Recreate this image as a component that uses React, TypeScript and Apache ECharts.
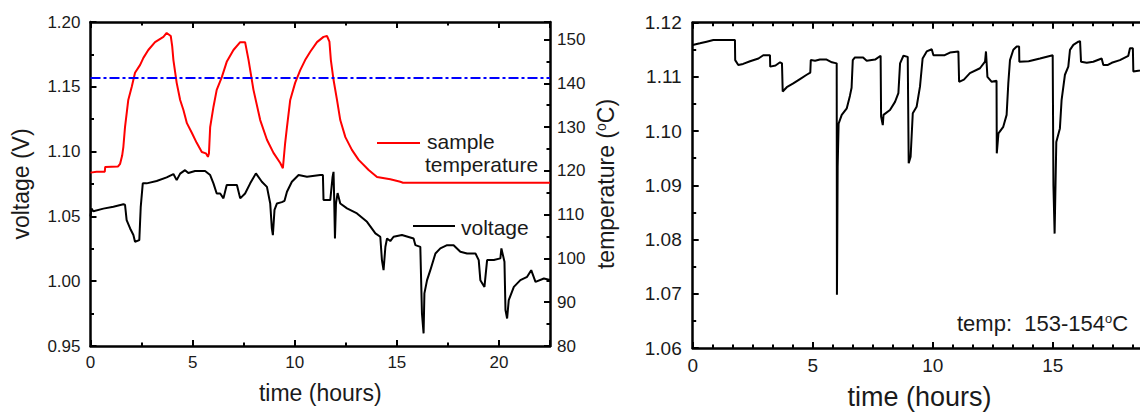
import React, { useEffect, useRef } from 'react';
import * as echarts from 'echarts';

const FONT = '"Liberation Sans", Arial, Helvetica, sans-serif';
const INK = '#1a1a1a';

// Left panel: sample temperature (°C) vs time (hours)
const tempHours = [0, 0.3, 0.7, 0.72, 1.35, 1.45, 1.55, 1.61, 1.69, 1.78, 1.85, 2.02, 2.18, 2.43, 2.59, 2.83, 3.16, 3.57, 3.73, 3.93, 4.0, 4.06, 4.22, 4.39, 4.55, 4.72, 4.96, 5.2, 5.45, 5.65, 5.75, 5.8, 5.86, 6.02, 6.18, 6.43, 6.67, 7.0, 7.33, 7.57, 7.74, 7.98, 8.31, 8.64, 8.96, 9.29, 9.42, 9.53, 9.62, 9.78, 10.02, 10.27, 10.51, 10.76, 11.09, 11.41, 11.58, 11.7, 11.77, 11.9, 12.07, 12.23, 12.48, 12.8, 13.13, 13.62, 14.03, 14.68, 15.17, 15.3, 22.5];
const tempValues = [119.6, 119.8, 119.8, 120.9, 121.0, 121.6, 123.5, 125.5, 130.0, 133.5, 136.2, 139.2, 142.4, 144.2, 145.8, 147.6, 149.4, 150.6, 151.5, 150.8, 148.5, 145.3, 140.1, 136.2, 133.9, 130.9, 128.7, 126.4, 124.3, 124.0, 123.2, 124.0, 130.0, 134.6, 138.5, 141.4, 144.9, 147.6, 149.4, 149.4, 145.3, 138.5, 131.6, 127.1, 124.1, 121.8, 120.6, 126.3, 130.0, 136.2, 140.1, 143.0, 145.3, 147.2, 149.4, 150.6, 150.8, 149.5, 145.3, 140.8, 136.2, 131.6, 127.7, 124.8, 122.5, 120.2, 118.6, 118.1, 117.5, 117.3, 117.3];
const thresholdTemp = 141.2;

// Left panel: voltage (V) vs time (hours)
const voltHoursA = [0, 0.05, 0.14, 0.63, 1.12, 1.61, 1.69, 1.77, 1.94, 2.1, 2.18, 2.39, 2.46, 2.56, 2.75, 3.24, 3.73, 4.06, 4.22, 4.39, 4.63, 4.79, 5.12, 5.61, 5.86, 6.02, 6.18, 6.35, 6.51, 6.67, 7.17, 7.33, 7.57, 7.82, 8.1, 8.39, 8.64, 8.8, 8.88, 8.93, 9.01, 9.13, 9.37, 9.5, 9.62, 9.86, 10.19, 10.6, 11.25, 11.38, 11.41, 11.74, 11.85, 11.9, 11.93, 11.97, 12.02, 12.1, 12.23, 12.56, 13.05, 13.54, 13.95, 14.19, 14.27, 14.35, 14.44, 14.52, 14.68, 14.84, 15.25, 15.82, 15.91, 16.15, 16.23, 16.31, 16.35, 16.48, 16.64, 16.89, 17.13, 17.46, 17.78, 18.11, 18.44, 18.85, 19.01, 19.09, 19.29, 19.42, 19.75, 20.07, 20.12, 20.27, 20.32, 20.4, 20.48, 20.73, 21.05, 21.38, 21.58, 21.79, 22.2, 22.5];
const voltValuesA = [1.05, 1.056, 1.054, 1.056, 1.0575, 1.0593, 1.059, 1.0471, 1.0407, 1.0356, 1.0304, 1.0317, 1.0574, 1.0755, 1.0755, 1.0773, 1.0801, 1.0827, 1.078, 1.083, 1.0857, 1.0835, 1.085, 1.085, 1.0819, 1.0755, 1.0677, 1.0677, 1.0639, 1.0742, 1.0742, 1.0639, 1.0677, 1.0755, 1.0832, 1.0767, 1.0728, 1.06, 1.0407, 1.0356, 1.055, 1.06, 1.061, 1.062, 1.069, 1.0767, 1.0819, 1.0806, 1.082, 1.082, 1.0626, 1.0626, 1.08, 1.0844, 1.065, 1.033, 1.06, 1.068, 1.06, 1.0562, 1.0523, 1.0458, 1.0369, 1.0343, 1.0163, 1.0085, 1.0266, 1.033, 1.031, 1.0343, 1.0356, 1.033, 1.0278, 1.0265, 0.9751, 0.9597, 0.9906, 1.0008, 1.0085, 1.0214, 1.0253, 1.0278, 1.0278, 1.0227, 1.0214, 1.0214, 1.0163, 1.0008, 0.9956, 1.0163, 1.0163, 1.0176, 1.0253, 1.015, 0.9777, 0.9712, 0.9854, 0.9956, 1.0008, 1.0034, 1.0085, 0.9995, 1.0021, 1.001];

// Right panel: voltage (V) vs time (hours) at 153-154 °C
const voltHoursB = [0, 0.3, 0.58, 0.86, 1.76, 1.77, 1.9, 2.1, 2.39, 2.74, 2.94, 3.22, 3.23, 3.45, 3.64, 3.72, 3.75, 3.92, 4.19, 4.47, 4.75, 4.9, 4.92, 5.1, 5.3, 5.58, 5.8, 6.0, 6.01, 6.04, 6.08, 6.21, 6.42, 6.55, 6.62, 6.67, 6.76, 7.1, 7.25, 7.6, 7.83, 7.85, 7.92, 7.95, 8.22, 8.43, 8.57, 8.64, 8.78, 8.96, 9.0, 9.08, 9.17, 9.33, 9.47, 9.58, 9.75, 9.96, 10.03, 10.5, 10.72, 11.07, 11.1, 11.3, 11.55, 11.97, 12.18, 12.22, 12.28, 12.46, 12.66, 12.67, 12.74, 12.94, 13.08, 13.15, 13.22, 13.36, 13.5, 13.6, 13.61, 14.0, 14.47, 15.0, 15.03, 15.08, 15.15, 15.3, 15.37, 15.51, 15.65, 15.72, 15.86, 16.07, 16.14, 16.18, 16.42, 16.69, 17.04, 17.11, 17.3, 17.46, 17.8, 18.15, 18.22, 18.34, 18.36, 18.64, 18.9];
const voltValuesB = [1.1159, 1.1162, 1.1165, 1.1168, 1.1168, 1.1131, 1.1122, 1.1124, 1.1129, 1.1134, 1.114, 1.114, 1.1119, 1.1121, 1.1127, 1.1125, 1.1073, 1.1081, 1.1088, 1.1096, 1.1104, 1.1108, 1.1131, 1.113, 1.1132, 1.1132, 1.1127, 1.1125, 1.0698, 1.0934, 1.1014, 1.103, 1.1042, 1.1065, 1.108, 1.1131, 1.1136, 1.1136, 1.113, 1.1132, 1.1139, 1.1027, 1.1011, 1.103, 1.1039, 1.1054, 1.107, 1.1125, 1.1139, 1.1137, 1.0941, 1.0953, 1.1033, 1.1045, 1.1082, 1.1134, 1.1147, 1.1151, 1.114, 1.114, 1.1145, 1.1147, 1.1091, 1.1095, 1.1107, 1.1116, 1.1128, 1.1147, 1.11, 1.1091, 1.1093, 1.0959, 1.0996, 1.1008, 1.103, 1.1088, 1.1131, 1.115, 1.1156, 1.1156, 1.1128, 1.1129, 1.1134, 1.114, 1.09, 1.0811, 1.098, 1.1005, 1.1057, 1.1104, 1.1119, 1.115, 1.1159, 1.1165, 1.1166, 1.1128, 1.1126, 1.1128, 1.1134, 1.1122, 1.1122, 1.1126, 1.1131, 1.1139, 1.1153, 1.1153, 1.111, 1.1112, 1.1115];

const zip = (xs: number[], ys: number[]) => xs.map((x, i) => [x, ys[i]]);

const isMultiple = (v: number, step: number) => Math.abs(v / step - Math.round(v / step)) < 1e-6;

function axisBase(fontSize: number) {
  return {
    axisLine: { show: true, onZero: false, lineStyle: { color: '#000', width: 2.5 } },
    axisTick: { show: true, inside: true, length: 6, lineStyle: { color: '#000', width: 2 } },
    minorTick: { show: true, splitNumber: 2, length: 3.5, lineStyle: { color: '#000', width: 2 } },
    splitLine: { show: false },
    minorSplitLine: { show: false },
    axisLabel: { color: INK, fontSize, fontFamily: FONT },
    nameTextStyle: { color: INK, fontFamily: FONT },
  };
}

const supRich = (size: number) => ({
  s: { fontSize: size, fontFamily: FONT, color: INK, verticalAlign: 'top' as const },
});

export default function App() {
  const ref = useRef<HTMLDivElement>(null);
  useEffect(() => {
    const chart = echarts.init(ref.current!, null, { renderer: 'svg' });
    const b17 = axisBase(17);
    const b19 = axisBase(19);
    chart.setOption({
      animation: false,
      backgroundColor: '#fff',
      grid: [
        { left: 90.5, top: 22, width: 459.5, height: 324, outerBoundsMode: 'none', containLabel: false },
        { left: 692.7, top: 22.7, width: 453.6, height: 325.3, outerBoundsMode: 'none', containLabel: false },
      ],
      xAxis: [
        {
          ...b17, type: 'value', gridIndex: 0, position: 'bottom', min: 0, max: 22.5, interval: 5,
          axisLabel: { ...b17.axisLabel, margin: 8, formatter: (v: number) => (isMultiple(v, 5) ? String(v) : '') },
          name: 'time (hours)', nameLocation: 'middle', nameGap: 35,
          nameTextStyle: { ...b17.nameTextStyle, fontSize: 23 },
        },
        {
          ...b17, type: 'value', gridIndex: 0, position: 'top', min: 0, max: 22.5, interval: 5,
          axisLabel: { show: false },
        },
        {
          ...b19, type: 'value', gridIndex: 1, position: 'bottom', min: 0, max: 18.9, interval: 5,
          minorTick: { ...b19.minorTick, splitNumber: 6 },
          axisLabel: { ...b19.axisLabel, margin: 8, formatter: (v: number) => (isMultiple(v, 5) ? String(v) : '') },
          name: 'time (hours)', nameLocation: 'middle', nameGap: 35,
          nameTextStyle: { ...b19.nameTextStyle, fontSize: 27 },
        },
        {
          ...b19, type: 'value', gridIndex: 1, position: 'top', min: 0, max: 18.9, interval: 5,
          minorTick: { ...b19.minorTick, splitNumber: 6 },
          axisLabel: { show: false },
        },
      ],
      yAxis: [
        {
          ...b17, type: 'value', gridIndex: 0, position: 'left', min: 0.95, max: 1.2, interval: 0.05,
          axisLabel: { ...b17.axisLabel, margin: 10, formatter: (v: number) => v.toFixed(2) },
          name: 'voltage (V)', nameLocation: 'middle', nameGap: 58,
          nameTextStyle: { ...b17.nameTextStyle, fontSize: 23 },
        },
        {
          ...b17, type: 'value', gridIndex: 0, position: 'right', min: 80, max: 154, interval: 10,
          axisLabel: { ...b17.axisLabel, margin: 7, formatter: (v: number) => (isMultiple(v, 10) ? String(v) : '') },
          name: 'temperature ({s|o}C)', nameLocation: 'middle', nameGap: 44,
          nameTextStyle: { ...b17.nameTextStyle, fontSize: 23, rich: supRich(14) },
        },
        {
          ...b19, type: 'value', gridIndex: 1, position: 'left', min: 1.06, max: 1.12, interval: 0.01,
          axisLabel: { ...b19.axisLabel, margin: 11, formatter: (v: number) => v.toFixed(2) },
        },
        {
          ...b19, type: 'value', gridIndex: 1, position: 'right', min: 1.06, max: 1.12, interval: 0.01,
          axisLabel: { show: false },
        },
      ],
      series: [
        {
          name: 'sample temperature', type: 'line', xAxisIndex: 0, yAxisIndex: 1,
          data: zip(tempHours, tempValues), showSymbol: false, symbol: 'none',
          lineStyle: { color: '#ff0000', width: 2 }, z: 3,
          markLine: {
            silent: true, symbol: ['none', 'none'], label: { show: false },
            lineStyle: { color: '#0000ff', width: 2, type: [10, 3, 3, 3] },
            data: [{ yAxis: thresholdTemp }],
          },
        },
        {
          name: 'voltage', type: 'line', xAxisIndex: 0, yAxisIndex: 0,
          data: zip(voltHoursA, voltValuesA), showSymbol: false, symbol: 'none',
          lineStyle: { color: '#000', width: 2 }, z: 3,
        },
        {
          name: 'voltage 153-154', type: 'line', xAxisIndex: 2, yAxisIndex: 2,
          data: zip(voltHoursB, voltValuesB), showSymbol: false, symbol: 'none',
          lineStyle: { color: '#000', width: 2 }, z: 3,
        },
      ],
      graphic: [
        { type: 'line', shape: { x1: 377, y1: 143, x2: 420, y2: 143 }, style: { stroke: '#ff0000', lineWidth: 2 } },
        { type: 'text', x: 427, y: 141, style: { text: 'sample', fontSize: 21, fontFamily: FONT, fill: INK, verticalAlign: 'middle' } },
        { type: 'text', x: 425, y: 164, style: { text: 'temperature', fontSize: 21, fontFamily: FONT, fill: INK, verticalAlign: 'middle' } },
        { type: 'line', shape: { x1: 413, y1: 226, x2: 455, y2: 226 }, style: { stroke: '#000', lineWidth: 2 } },
        { type: 'text', x: 461, y: 227, style: { text: 'voltage', fontSize: 21, fontFamily: FONT, fill: INK, verticalAlign: 'middle' } },
        {
          type: 'text', x: 957, y: 323,
          style: { text: 'temp:  153-154{s|o}C', fontSize: 22, fontFamily: FONT, fill: INK, verticalAlign: 'middle', rich: supRich(13) },
        },
      ],
    });
    return () => chart.dispose();
  }, []);
  return (
    <div style={{ position: 'fixed', left: 0, top: 0, width: 1140, height: 414, overflow: 'hidden', background: '#fff' }}>
      <div ref={ref} style={{ width: 1300, height: 414 }} />
    </div>
  );
}
